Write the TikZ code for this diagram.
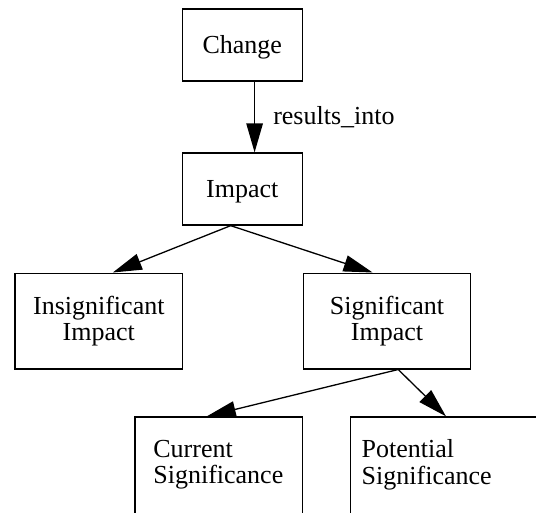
\documentclass[tikz,border=0pt]{standalone}
\usepackage{fontspec}
\setmainfont{Liberation Serif}
\usetikzlibrary{arrows.meta}
\begin{document}
\begin{tikzpicture}[x=1pt, y=-1pt, line width=1.3pt,
  box/.style={draw, rectangle, inner sep=0pt, font=\fontsize{26}{26.7}\selectfont},
  >={Triangle[length=29pt, width=16.5pt]}]

\useasboundingbox (0,0) rectangle (536,512);
\clip (0,0) rectangle (536,512);

\node[box, minimum width=120.3pt, minimum height=72pt, text height=17.5pt, text depth=0pt] (change) at (242.3, 45) {Change};
\node[box, minimum width=120.3pt, minimum height=72pt, text height=17.5pt, text depth=0pt] (impact) at (242.3, 189) {Impact};

\node[box, align=center, minimum width=167.5pt, minimum height=95.7pt] (insig) at (98.8, 321) {Insignificant\\Impact};
\node[box, align=center, minimum width=167.5pt, minimum height=95.7pt] (sig) at (387, 321) {Significant\\Impact};

\node[box, align=left, text width=131.1pt, inner xsep=18.3pt, minimum height=98pt, text depth=35.2pt] (current) at (218.9, 466) {Current\\Significance};
\node[box, align=left, text width=178pt, inner xsep=11pt, minimum height=98pt, text depth=35.2pt] (potential) at (450.7, 466) {Potential\\Significance};

\draw[->] ([xshift=12.3pt]change.south) -- ([xshift=12.3pt]impact.north)
  node[midway, right=18pt, inner sep=0pt, font=\fontsize{26}{26.7}\selectfont] (resultsinto) {results\_into};

\draw[->] ([xshift=-11.6pt]impact.south) -- ([xshift=14pt]insig.north);
\draw[->] ([xshift=-11.6pt]impact.south) -- ([xshift=-14.4pt]sig.north);

\draw[->] ([xshift=11.2pt]sig.south) -- ([xshift=-12.1pt]current.north);
\draw[->] ([xshift=11.2pt]sig.south) -- ([xshift=-4.7pt]potential.north);

\end{tikzpicture}
\end{document}
